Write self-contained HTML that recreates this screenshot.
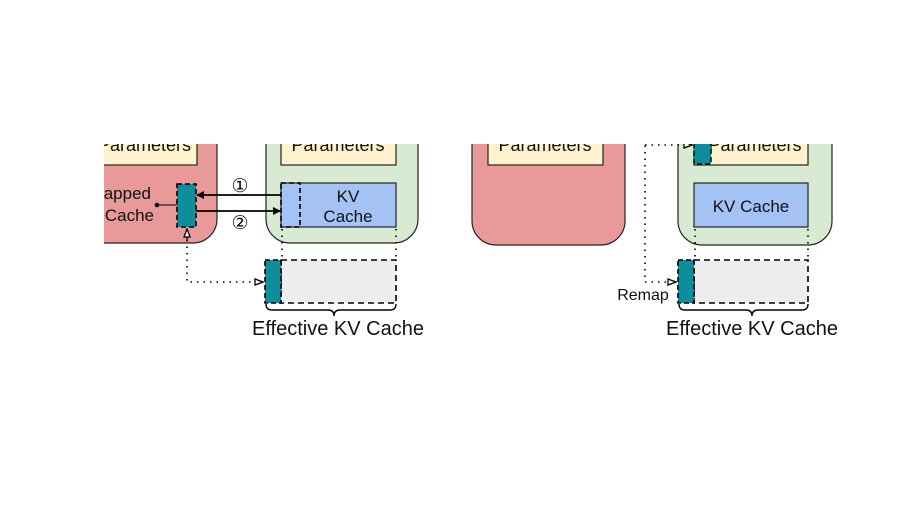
<!DOCTYPE html>
<html><head><style>body{margin:0;background:#fff}svg{display:block}text{font-family:"Liberation Sans",sans-serif;fill:#111}</style></head><body>
<svg width="918" height="517" viewBox="0 0 918 517" xmlns="http://www.w3.org/2000/svg">
<defs>
<clipPath id="c"><rect x="104" y="144" width="814" height="373"/></clipPath>
<marker id="af" markerWidth="8" markerHeight="8" refX="7" refY="4" orient="auto" markerUnits="userSpaceOnUse"><path d="M0,0 L8,4 L0,8z" fill="#000"/></marker>
<marker id="ao" markerWidth="10" markerHeight="8" refX="9" refY="4" orient="auto" markerUnits="userSpaceOnUse"><path d="M1,1 L9,4 L1,7z" fill="#fff" stroke="#000" stroke-width="1.3"/></marker>
</defs>
<g clip-path="url(#c)" stroke="#222" stroke-width="1.2">
<rect x="60" y="100" width="157" height="143" rx="24" fill="#ea9999"/>
<rect x="80" y="110" width="117" height="55" fill="#fff2cc"/>
<text x="98" y="151" font-size="18" stroke="none">Parameters</text>
<text x="151" y="199" font-size="17" text-anchor="end" stroke="none">Mapped</text>
<text x="154" y="221" font-size="17" text-anchor="end" stroke="none">KV Cache</text>
<line x1="157" y1="205" x2="178" y2="205"/><circle cx="157" cy="205" r="1.8" fill="#000"/>
<rect x="177" y="184" width="19" height="43" fill="#0e8e9c" stroke="#000" stroke-width="1.6" stroke-dasharray="5,3"/>
<rect x="266" y="100" width="152" height="143" rx="24" fill="#d9ead3"/>
<rect x="281" y="110" width="115" height="55" fill="#fff2cc"/>
<text x="338" y="151" font-size="18" text-anchor="middle" stroke="none">Parameters</text>
<rect x="281" y="183" width="115" height="44" fill="#a4c2f4"/>
<rect x="281" y="183" width="19" height="44" fill="none" stroke="#000" stroke-width="1.6" stroke-dasharray="5,3"/>
<text x="348" y="202" font-size="17" text-anchor="middle" stroke="none">KV</text>
<text x="348" y="222" font-size="17" text-anchor="middle" stroke="none">Cache</text>
<line x1="281" y1="195" x2="197" y2="195" stroke="#000" stroke-width="1.8" marker-end="url(#af)"/>
<line x1="196" y1="211" x2="280" y2="211" stroke="#000" stroke-width="1.8" marker-end="url(#af)"/>
<text x="240" y="192" font-size="19" text-anchor="middle" stroke="none">①</text>
<text x="240" y="229" font-size="19" text-anchor="middle" stroke="none">②</text>
<g stroke="#000" stroke-width="1.6" stroke-dasharray="1.5,5" fill="none">
<line x1="282" y1="229" x2="282" y2="260"/><line x1="396" y1="229" x2="396" y2="260"/>
<polyline points="187,240 187,282 263,282" marker-end="url(#ao)"/>
</g>
<line x1="187" y1="240" x2="187" y2="229" stroke="#000" stroke-width="1.3" marker-end="url(#ao)"/>
<rect x="281" y="260" width="115" height="43" fill="#eeeeee" stroke="#000" stroke-width="1.6" stroke-dasharray="6,4"/>
<rect x="265" y="260" width="16" height="43" fill="#0e8e9c" stroke="#000" stroke-width="1.6" stroke-dasharray="5,3"/>
<path d="M266,304 q0,6 6,6 h56 q6,0 6,6 q0,-6 6,-6 h50 q6,0 6,-6" fill="none" stroke="#000" stroke-width="1.4"/>
<text x="338" y="335" font-size="20" text-anchor="middle" stroke="none">Effective KV Cache</text>
<rect x="472" y="100" width="153" height="145" rx="24" fill="#ea9999"/>
<rect x="488" y="110" width="115" height="55" fill="#fff2cc"/>
<text x="545" y="151" font-size="18" text-anchor="middle" stroke="none">Parameters</text>
<rect x="678" y="100" width="154" height="145" rx="24" fill="#d9ead3"/>
<rect x="694" y="110" width="114" height="55" fill="#fff2cc"/>
<text x="755" y="151" font-size="18" text-anchor="middle" stroke="none">Parameters</text>
<rect x="694" y="110" width="17" height="54" fill="#0e8e9c" stroke="#000" stroke-width="1.4" stroke-dasharray="5,3"/>
<rect x="694" y="183" width="114" height="44" fill="#a4c2f4"/>
<text x="751" y="212" font-size="17" text-anchor="middle" stroke="none">KV Cache</text>
<g stroke="#000" stroke-width="1.6" stroke-dasharray="1.5,5" fill="none">
<line x1="695" y1="229" x2="695" y2="260"/><line x1="808" y1="229" x2="808" y2="260"/>
<polyline points="645,100 645,282 676,282" marker-end="url(#ao)"/>
<polyline points="645,145 692,145" marker-end="url(#ao)"/>
</g>
<rect x="694" y="260" width="114" height="43" fill="#eeeeee" stroke="#000" stroke-width="1.6" stroke-dasharray="6,4"/>
<rect x="678" y="260" width="16" height="43" fill="#0e8e9c" stroke="#000" stroke-width="1.6" stroke-dasharray="5,3"/>
<text x="643" y="300" font-size="16" text-anchor="middle" stroke="none">Remap</text>
<path d="M679,304 q0,6 6,6 h61 q6,0 6,6 q0,-6 6,-6 h44 q6,0 6,-6" fill="none" stroke="#000" stroke-width="1.4"/>
<text x="752" y="335" font-size="20" text-anchor="middle" stroke="none">Effective KV Cache</text>
</g>
</svg>
</body></html>
